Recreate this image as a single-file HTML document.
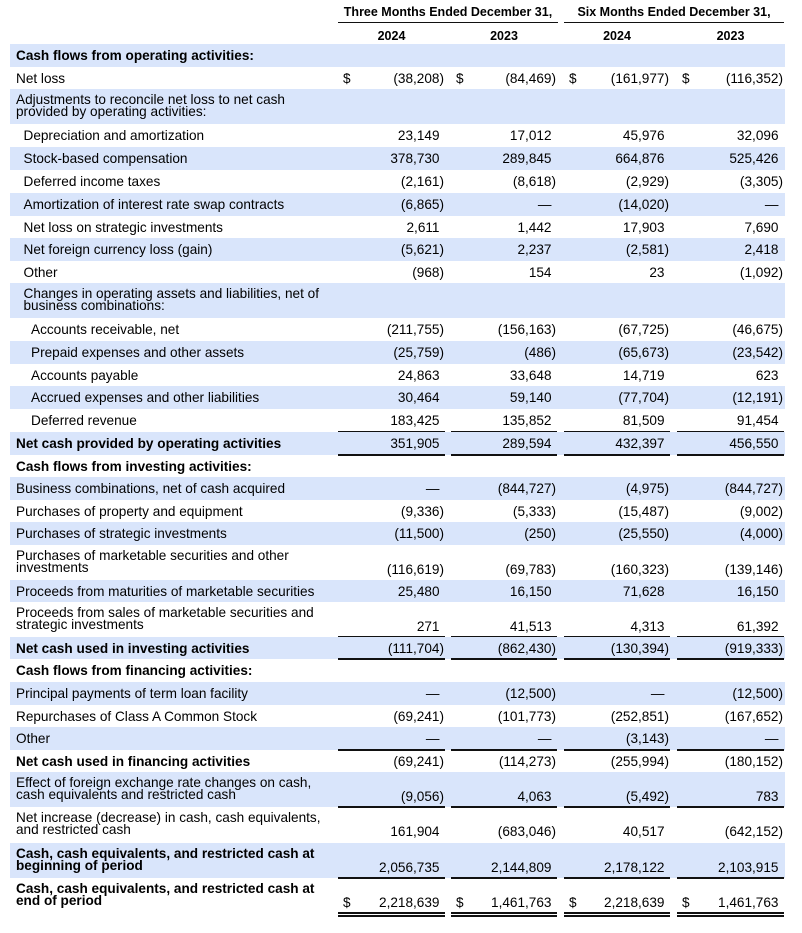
<!DOCTYPE html>
<html><head><meta charset="utf-8">
<style>
body{margin:0;background:#fff;width:802px;height:933px;position:relative;overflow:hidden;font-family:"Liberation Sans",Arial,sans-serif;color:#000;font-size:13.6px}
.a{position:absolute;white-space:nowrap}
.band{position:absolute;left:10px;width:775px;background:#d9e5fb}
.ln{position:absolute;height:1.5px;background:#111}
.b{font-weight:bold}
</style></head><body>
<div id="root"></div>
<script>
const colLeft=[338,451,564,677];
const colRight=[445,557,670,784];
const headers=[["Three Months Ended December 31,",338,558],["Six Months Ended December 31,",564,784]];
const years=["2024","2023","2024","2023"];
const rows=[
[44,23,1,"Cash flows from operating activities:",0,1,null,"",0],
[67,22,0,"Net loss",0,0,["(38,208)","(84,469)","(161,977)","(116,352)"],"",1],
[89,35,1,"Adjustments to reconcile net loss to net cash|provided by operating activities:",0,0,null,"",0],
[124,23,0,"Depreciation and amortization",1,0,["23,149","17,012","45,976","32,096"],"",0],
[147,23,1,"Stock-based compensation",1,0,["378,730","289,845","664,876","525,426"],"",0],
[170,23,0,"Deferred income taxes",1,0,["(2,161)","(8,618)","(2,929)","(3,305)"],"",0],
[193,23,1,"Amortization of interest rate swap contracts",1,0,["(6,865)","—","(14,020)","—"],"",0],
[216,22,0,"Net loss on strategic investments",1,0,["2,611","1,442","17,903","7,690"],"",0],
[238,23,1,"Net foreign currency loss (gain)",1,0,["(5,621)","2,237","(2,581)","2,418"],"",0],
[261,22,0,"Other",1,0,["(968)","154","23","(1,092)"],"",0],
[283,35,1,"Changes in operating assets and liabilities, net of|business combinations:",1,0,null,"",0],
[318,23,0,"Accounts receivable, net",2,0,["(211,755)","(156,163)","(67,725)","(46,675)"],"",0],
[341,23,1,"Prepaid expenses and other assets",2,0,["(25,759)","(486)","(65,673)","(23,542)"],"",0],
[364,22,0,"Accounts payable",2,0,["24,863","33,648","14,719","623"],"",0],
[386,23,1,"Accrued expenses and other liabilities",2,0,["30,464","59,140","(77,704)","(12,191)"],"",0],
[409,23,0,"Deferred revenue",2,0,["183,425","135,852","81,509","91,454"],"s",0],
[432,23,1,"Net cash provided by operating activities",0,1,["351,905","289,594","432,397","456,550"],"s",0],
[455,22,0,"Cash flows from investing activities:",0,1,null,"",0],
[477,23,1,"Business combinations, net of cash acquired",0,0,["—","(844,727)","(4,975)","(844,727)"],"",0],
[500,22,0,"Purchases of property and equipment",0,0,["(9,336)","(5,333)","(15,487)","(9,002)"],"",0],
[522,23,1,"Purchases of strategic investments",0,0,["(11,500)","(250)","(25,550)","(4,000)"],"",0],
[545,35,0,"Purchases of marketable securities and other|investments",0,0,["(116,619)","(69,783)","(160,323)","(139,146)"],"",0],
[580,22,1,"Proceeds from maturities of marketable securities",0,0,["25,480","16,150","71,628","16,150"],"",0],
[602,35,0,"Proceeds from sales of marketable securities and|strategic investments",0,0,["271","41,513","4,313","61,392"],"s",0],
[637,22,1,"Net cash used in investing activities",0,1,["(111,704)","(862,430)","(130,394)","(919,333)"],"s",0],
[659,23,0,"Cash flows from financing activities:",0,1,null,"",0],
[682,23,1,"Principal payments of term loan facility",0,0,["—","(12,500)","—","(12,500)"],"",0],
[705,22,0,"Repurchases of Class A Common Stock",0,0,["(69,241)","(101,773)","(252,851)","(167,652)"],"",0],
[727,23,1,"Other",0,0,["—","—","(3,143)","—"],"s",0],
[750,22,0,"Net cash used in financing activities",0,1,["(69,241)","(114,273)","(255,994)","(180,152)"],"",0],
[772,35,1,"Effect of foreign exchange rate changes on cash,|cash equivalents and restricted cash",0,0,["(9,056)","4,063","(5,492)","783"],"s",0],
[807,36,0,"Net increase (decrease) in cash, cash equivalents,|and restricted cash",0,0,["161,904","(683,046)","40,517","(642,152)"],"",0],
[843,35,1,"Cash, cash equivalents, and restricted cash at|beginning of period",0,1,["2,056,735","2,144,809","2,178,122","2,103,915"],"s",0],
[878,35,0,"Cash, cash equivalents, and restricted cash at|end of period",0,1,["2,218,639","1,461,763","2,218,639","1,461,763"],"d",1]
];
const root=document.getElementById('root');
function mk(cls,style,text){const e=document.createElement('div');e.className=cls;e.style.cssText=style;if(text!=null)e.textContent=text;root.appendChild(e);return e;}
headers.forEach(h=>{
  const t=mk('a b',`left:${h[1]}px;width:${h[2]-h[1]}px;top:5px;text-align:center;font-size:12.5px;`,h[0]);
  
  
  const l=mk('ln',`left:${h[1]}px;width:${h[2]-h[1]}px;top:21.5px;`);
  
  
});
years.forEach((y,i)=>{
  const t=mk('a b',`left:${colLeft[i]}px;width:${colRight[i]-colLeft[i]}px;top:29px;text-align:center;font-size:12.5px;`,y);
  
  
  const l=mk('ln',`left:${colLeft[i]}px;width:${colRight[i]-colLeft[i]}px;top:43.5px;`);
  
  
});
rows.forEach(r=>{
  const [top,h,sh,label,ind,bold,vals,ul,dol]=r;
  if(sh){const b=mk('band',`top:${top}px;height:${h}px;`);
    
    }
  const lines=label.split('|');
  const two=lines.length>1;
  const lx=16+ind*7.5;
  const lt=two?top+(h-24)/2-1:top+(h-15)/2;
  const lab=mk('a'+(bold?' b':''),`left:${lx}px;top:${lt}px;line-height:${two?12:15}px;white-space:pre;`,lines.join('\n'));
  
  
  if(vals){
    const vt=two?top+(h-24)/2-1+12:top+(h-15)/2;
    vals.forEach((v,i)=>{
      const hang=v.endsWith(')')?0:4.5;
      const e=mk('a',`right:${802-colRight[i]+1+hang}px;top:${vt}px;line-height:15px;`,v);
      
      
      if(dol){const d=mk('a',`left:${colLeft[i]+5}px;top:${vt}px;line-height:15px;`,'$');
        
        }
      if(ul){
        const l=mk('ln',`left:${colLeft[i]}px;width:${colRight[i]-colLeft[i]}px;top:${top+h-1}px;`);
        
        
        if(ul==='d'){const l2=mk('ln',`left:${colLeft[i]}px;width:${colRight[i]-colLeft[i]}px;top:${top+h+2}px;`);
          
          }
      }
    });
  }
});
</script>
</body></html>
